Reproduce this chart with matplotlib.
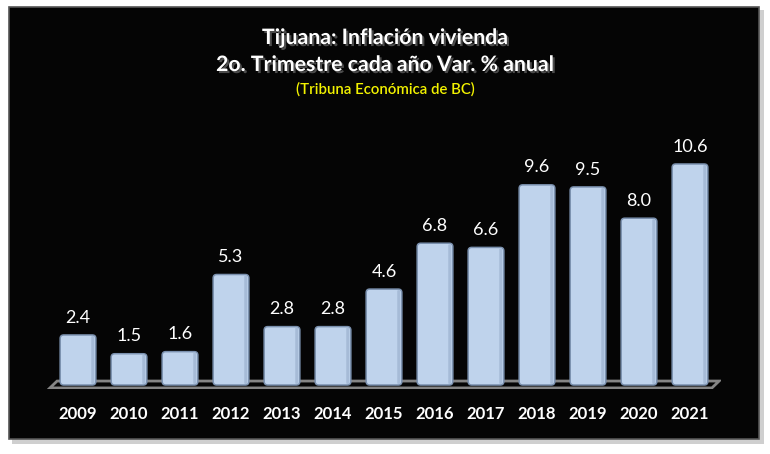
import matplotlib
matplotlib.use("Agg")
import matplotlib.pyplot as plt
import matplotlib.patches as mpatches
import matplotlib.patheffects as pe

# ── data ──────────────────────────────────────────────────────────────────────
years  = ["2009", "2010", "2011", "2012", "2013", "2014", "2015",
          "2016", "2017", "2018", "2019", "2020", "2021"]
values = [2.4, 1.5, 1.6, 5.3, 2.8, 2.8, 4.6, 6.8, 6.6, 9.6, 9.5, 8.0, 10.6]

title1 = "Tijuana: Inflación vivienda"
title2 = "2o. Trimestre cada año Var. % anual"
source = "(Tribuna Económica de BC)"

# ── palette ───────────────────────────────────────────────────────────────────
BAR      = "#BFD3EC"
BAR_EDGE = "#7A90AE"
BAR_SIDE = "#A6BBD7"
FLOOR    = "#858585"
YELLOW   = "#F2F200"
FONT     = ["Lato", "DejaVu Sans"]

W, H = 770, 454
fig = plt.figure(figsize=(W / 100, H / 100), dpi=100)
fig.patch.set_facecolor("white")

# black card with a slight shadow (behind the axes)
shadow = mpatches.Rectangle((12 / W, 1 - 444 / H), 752 / W, 434 / H,
                            transform=fig.transFigure, facecolor="#a0a0a0",
                            edgecolor="none", alpha=0.5, zorder=-2)
card = mpatches.Rectangle((9 / W, 1 - 439 / H), 750 / W, 432 / H,
                          transform=fig.transFigure, facecolor="#050505",
                          edgecolor="#555555", linewidth=1.2, zorder=-1)
fig.patches.extend([shadow, card])

shadow_fx = [pe.withSimplePatchShadow(offset=(1.5, -1.5), shadow_rgbFace="#555555", alpha=0.9)]
fig.text(0.5, 1 - 38 / H, title1, ha="center", va="center", color="white",
         fontsize=15.3, fontweight="bold", family=FONT, path_effects=shadow_fx)
fig.text(0.5, 1 - 65 / H, title2, ha="center", va="center", color="white",
         fontsize=15.3, fontweight="bold", family=FONT, path_effects=shadow_fx)
fig.text(0.5, 1 - 89 / H, source, ha="center", va="center", color=YELLOW,
         fontsize=10.8, fontweight="semibold", family=FONT)

# axes placed so bars line up with the picture
px_x, px_y = 51, 20.85          # pixels per data unit
xmin, xmax = -0.6, 12.6
ymin, ymax = -0.2, 12
ax_left = 78 + xmin * px_x
ax_w = (xmax - xmin) * px_x
ax_bottom = H - 385 + ymin * px_y
ax_h = (ymax - ymin) * px_y
ax = fig.add_axes([ax_left / W, ax_bottom / H, ax_w / W, ax_h / H])
ax.set_facecolor((0, 0, 0, 0))
ax.set_xlim(xmin, xmax)
ax.set_ylim(ymin, ymax)
for s in ax.spines.values():
    s.set_visible(False)
ax.tick_params(length=0)
ax.set_yticks([])

# floor (outline only)
floor = mpatches.Polygon([(xmin + 0.05, -0.14), (xmax - 0.17, -0.14),
                          (xmax - 0.03, 0.19), (xmin + 0.19, 0.19)],
                         closed=True, facecolor="#050505", edgecolor=FLOOR,
                         linewidth=2, zorder=1)
ax.add_patch(floor)

xs = range(len(years))
bars = ax.bar(xs, values, width=0.7, color="none", linewidth=0, zorder=2)

# rounded, lightly shaded bars built on the bar geometry
aspect = px_x / px_y
for b in bars:
    x0, w, h = b.get_x(), b.get_width(), b.get_height()
    body = mpatches.FancyBboxPatch((x0, 0), w, h,
                                   boxstyle="round,pad=0,rounding_size=0.07",
                                   mutation_aspect=aspect, facecolor=BAR,
                                   edgecolor=BAR_EDGE, linewidth=1.1, zorder=3)
    ax.add_patch(body)
    side = mpatches.FancyBboxPatch((x0 + w - 0.09, 0.05), 0.06, h - 0.1,
                                   boxstyle="round,pad=0,rounding_size=0.02",
                                   mutation_aspect=aspect, facecolor=BAR_SIDE,
                                   edgecolor="none", zorder=4)
    ax.add_patch(side)

for b, v in zip(bars, values):
    ax.text(b.get_x() + b.get_width() / 2, v + 0.45, f"{v:.1f}",
            ha="center", va="bottom", color="white", fontsize=13, family=FONT)

ax.set_xticks(list(xs))
ax.set_xticklabels(years, color="white", fontsize=12, fontweight="bold",
                   family=FONT)
ax.tick_params(axis="x", pad=12)

fig.savefig("out.png", dpi=100, facecolor=fig.get_facecolor())
